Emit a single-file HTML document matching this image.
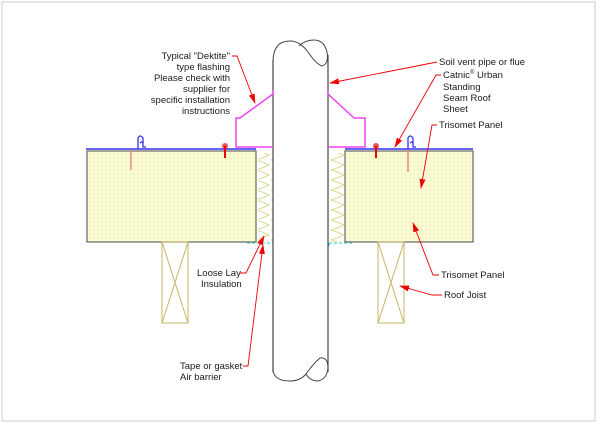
<!DOCTYPE html>
<html><head><meta charset="utf-8"><style>
html,body{margin:0;padding:0;background:#fff;}
svg{display:block;}
text{font-family:"Liberation Sans",Arial,sans-serif;font-size:9.5px;fill:#1a1a1a;}
</style></head><body>
<svg width="602" height="425" viewBox="0 0 602 425" xmlns="http://www.w3.org/2000/svg">
<defs>
<pattern id="hx" width="4" height="4" patternUnits="userSpaceOnUse">
<rect width="4" height="4" fill="#fcfcd6"/>
<circle cx="2" cy="2" r="1.1" fill="none" stroke="#ecebb0" stroke-width="0.5"/>
</pattern>
<marker id="ar" markerWidth="10" markerHeight="6" refX="9" refY="3" orient="auto" markerUnits="userSpaceOnUse">
<path d="M0,0 L10,3 L0,6 Z" fill="#e00"/>
</marker>
<pattern id="ins" width="15" height="10" patternUnits="userSpaceOnUse">
<path d="M1,0 Q8,2 14,5 Q8,8 1,10" fill="none" stroke="#d6d27a" stroke-width="0.8"/>
</pattern>
</defs>
<rect x="2" y="2" width="593" height="419" fill="none" stroke="#ccc" stroke-width="1"/>

<rect x="87" y="151" width="169" height="91" fill="url(#hx)" stroke="#666" stroke-width="1.2"/>
<rect x="345" y="151" width="128" height="91" fill="url(#hx)" stroke="#666" stroke-width="1.2"/>
<rect x="258" y="153" width="15" height="89" fill="url(#ins)"/>
<rect x="329" y="153" width="15" height="89" fill="url(#ins)"/>
<g fill="none" stroke="#c8b56a" stroke-width="1">
<rect x="162" y="242" width="26" height="81"/>
<path d="M162,242 L188,323 M188,242 L162,323"/>
<rect x="378" y="242" width="26" height="81"/>
<path d="M378,242 L404,323 M404,242 L378,323"/>
</g>
<path d="M247,243 L273,243 M329,243 L352,243 M329,243 L329,248" stroke="#2cc" stroke-width="1" stroke-dasharray="3,2" fill="none"/>

<!-- pipe -->
<path d="M273,62 Q273,41 290,41 Q300,41 308,52 Q316,64 322,66 Q329,64 327,52 Q324,40 314,40 Q305,40 299,46" fill="none" stroke="#444" stroke-width="1"/>
<path d="M273,370 Q274,381 290,381 Q300,381 306,374 Q313,364 320,358 Q328,357 328,368 Q327,379 318,381 Q310,381 306,374" fill="none" stroke="#444" stroke-width="1"/>
<line x1="273" y1="60" x2="273" y2="372" stroke="#444" stroke-width="1.2"/>
<line x1="328" y1="55" x2="328" y2="372" stroke="#444" stroke-width="1.2"/>

<path d="M86,149 L256,149" stroke="#33e" stroke-width="1.5"/>
<path d="M345,149 L473,149" stroke="#33e" stroke-width="1.5"/>
<path d="M138,149 L138,138 Q140,134 143,138 L143,147 L146,147 M140,143 Q143,140 143,145" fill="none" stroke="#33e" stroke-width="1.3"/>
<path d="M408,149 L408,138 Q410,134 413,138 L413,147 L416,147 M410,143 Q413,140 413,145" fill="none" stroke="#33e" stroke-width="1.3"/>
<line x1="131" y1="150" x2="131" y2="170" stroke="#e88" stroke-width="1.5"/>
<line x1="408" y1="150" x2="408" y2="172" stroke="#e88" stroke-width="1.5"/>
<circle cx="225" cy="146" r="3" fill="#e55"/>
<line x1="225" y1="146" x2="225" y2="158" stroke="#e00" stroke-width="2"/>
<circle cx="376" cy="146" r="3" fill="#e55"/>
<line x1="376" y1="146" x2="376" y2="158" stroke="#e00" stroke-width="2"/>

<path d="M273,90 L273,94 L240,118 L236,118 L236,147 L273,147" fill="none" stroke="#e4e" stroke-width="1.5"/>
<path d="M328,90 L328,94 L354,118 L365,118 L365,147 L328,147" fill="none" stroke="#e4e" stroke-width="1.5"/>

<g stroke="#e00" stroke-width="0.9" fill="none">
<path d="M232,56 L237,56 L255,103" marker-end="url(#ar)"/>
<path d="M437,62 L330,83" marker-end="url(#ar)"/>
<path d="M441,75 L436,75 L395,147" marker-end="url(#ar)"/>
<path d="M437,125 L432,125 L421,188" marker-end="url(#ar)"/>
<path d="M439,275 L433,275 L413,223" marker-end="url(#ar)"/>
<path d="M442,295 L432,295 L400,286" marker-end="url(#ar)"/>
<path d="M240,273 L246,273 L264,236" marker-end="url(#ar)"/>
<path d="M243,366 L248,366 L263,245" marker-end="url(#ar)"/>
</g>

<g text-anchor="end">
<text x="230" y="59">Typical "Dektite"</text>
<text x="230" y="70">type flashing</text>
<text x="230" y="81">Please check with</text>
<text x="230" y="92">supplier for</text>
<text x="230" y="103">specific installation</text>
<text x="230" y="114">instructions</text>
</g>
<text x="439" y="65">Soil vent pipe or flue</text>
<text x="443" y="78">Catnic<tspan font-size="6" dy="-4">®</tspan><tspan dy="4"> Urban</tspan></text>
<text x="443" y="90">Standing</text>
<text x="443" y="101">Seam Roof</text>
<text x="443" y="112">Sheet</text>
<text x="439" y="128">Trisomet Panel</text>
<text x="441" y="278">Trisomet Panel</text>
<text x="444" y="298">Roof Joist</text>
<text x="197" y="276">Loose Lay</text>
<text x="201" y="287">Insulation</text>
<text x="180" y="369">Tape or gasket</text>
<text x="180" y="380">Air barrier</text>
</svg>
</body></html>
